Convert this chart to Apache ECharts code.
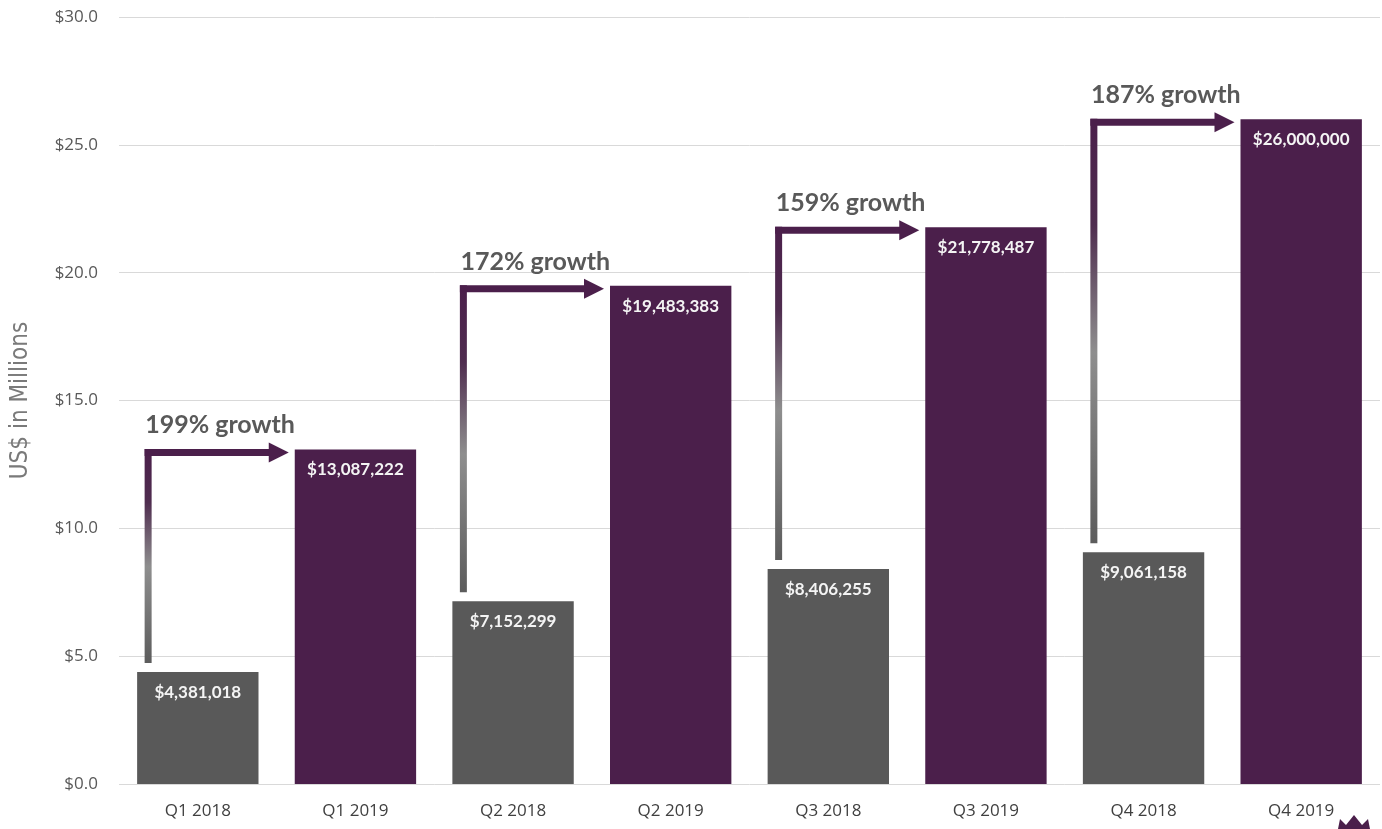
<!DOCTYPE html>
<html>
<head>
<meta charset="utf-8">
<title>Quarterly revenue growth</title>
<script src="https://cdn.jsdelivr.net/npm/echarts@6/dist/echarts.min.js"></script>
<style>
  html, body { margin: 0; padding: 0; background: #ffffff; }
  #chart { width: 1382px; height: 829px; }
</style>
</head>
<body>
<div id="chart"></div>
<script>
// Quarterly revenue, 2018 vs 2019 (US$)
const categories = ['Q1 2018', 'Q1 2019', 'Q2 2018', 'Q2 2019', 'Q3 2018', 'Q3 2019', 'Q4 2018', 'Q4 2019'];
const revenue = [4381018, 13087222, 7152299, 19483383, 8406255, 21778487, 9061158, 26000000];
const yearOfBar = ['2018', '2019', '2018', '2019', '2018', '2019', '2018', '2019'];
const growthLabels = ['199% growth', '172% growth', '159% growth', '187% growth'];
// each growth arrow runs from a 2018 bar to the matching 2019 bar
const growthPairs = [[0, 1], [2, 3], [4, 5], [6, 7]];
const yTicks = [0, 5, 10, 15, 20, 25, 30];

const GRAY = '#595959';
const PURPLE = '#4b1f4b';
const FONT = 'Lato, "Open Sans", sans-serif';

const chart = echarts.init(document.getElementById('chart'), null, { renderer: 'canvas' });

const fmtDollars = v => '$' + v.toLocaleString('en-US');

const option = {
  backgroundColor: '#ffffff',
  animation: false,
  grid: { left: 119, right: 2, top: 17, bottom: 45 },
  xAxis: {
    type: 'category',
    data: categories,
    axisLine: { show: false },
    axisTick: { show: false },
    axisLabel: { color: '#404040', fontSize: 17, fontFamily: '"Open Sans", sans-serif', margin: 19 }
  },
  yAxis: {
    type: 'value',
    min: yTicks[0],
    max: yTicks[yTicks.length - 1],
    interval: 5,
    name: 'US$ in Millions',
    nameLocation: 'middle',
    nameGap: 86,
    nameRotate: 90,
    nameTextStyle: { color: '#7a7a7a', fontSize: 24, fontFamily: '"DejaVu Sans Condensed", "Liberation Sans Narrow", sans-serif' },
    axisLine: { show: false },
    axisTick: { show: false },
    splitLine: { lineStyle: { color: '#d9d9d9', width: 1 } },
    axisLabel: {
      color: GRAY, fontSize: 17, fontFamily: '"Open Sans", sans-serif', margin: 21,
      formatter: v => '$' + v.toFixed(1)
    }
  },
  series: [{
    type: 'bar',
    barWidth: '77%',
    data: revenue.map((v, i) => ({
      value: v / 1e6,
      itemStyle: { color: yearOfBar[i] === '2018' ? GRAY : PURPLE }
    })),
    label: {
      show: true,
      position: 'insideTop',
      distance: 12,
      color: '#f4f4f4',
      fontSize: 17,
      fontWeight: 'bold',
      fontFamily: FONT,
      formatter: p => fmtDollars(revenue[p.dataIndex])
    }
  }]
};

chart.setOption(option);

// Elbow arrows with growth captions, placed through the chart's own scales
function drawArrows() {
  const elements = [];
  const c0 = chart.convertToPixel({ gridIndex: 0 }, [0, 0]);
  const c1 = chart.convertToPixel({ gridIndex: 0 }, [1, 0]);
  const band = c1[0] - c0[0];
  const barW = band * 0.77;
  const lw = 7, headLen = 20, headHalf = 10;

  growthPairs.forEach(([from, to], k) => {
    const pFrom = chart.convertToPixel({ gridIndex: 0 }, [from, revenue[from] / 1e6]);
    const pTo = chart.convertToPixel({ gridIndex: 0 }, [to, revenue[to] / 1e6]);
    const x = pFrom[0] - barW / 2 + 11;
    const yBottom = pFrom[1] - 9;
    const yH = pTo[1] + 3;
    const tipX = pTo[0] - barW / 2 - 6;

    // vertical stem: purple at the top fading into gray
    elements.push({
      type: 'rect',
      shape: { x: x - lw / 2, y: yH - lw / 2, width: lw, height: yBottom - (yH - lw / 2) },
      style: {
        fill: new echarts.graphic.LinearGradient(0, 0, 0, 1, [
          { offset: 0, color: PURPLE },
          { offset: 0.25, color: '#4f2d4f' },
          { offset: 0.55, color: '#8e8e8e' },
          { offset: 1, color: '#5c5c5c' }
        ])
      },
      silent: true
    });
    // horizontal run
    elements.push({
      type: 'rect',
      shape: { x: x - lw / 2, y: yH - lw / 2, width: (tipX - headLen) - (x - lw / 2) + 1, height: lw },
      style: { fill: PURPLE },
      silent: true
    });
    // arrow head
    elements.push({
      type: 'polygon',
      shape: { points: [[tipX - headLen, yH - headHalf], [tipX, yH], [tipX - headLen, yH + headHalf]] },
      style: { fill: PURPLE },
      silent: true
    });
    // caption
    elements.push({
      type: 'text',
      x: x - 3,
      y: yH - 27,
      style: {
        text: growthLabels[k],
        fill: GRAY,
        font: 'bold 25px ' + FONT,
        textAlign: 'left',
        textVerticalAlign: 'middle'
      },
      silent: true
    });
  });

  // small crown mark in the lower right corner
  elements.push({
    type: 'polygon',
    shape: { points: [[1338, 829], [1340, 819], [1346, 825], [1354, 815], [1362, 825], [1368, 819], [1370, 829]] },
    style: { fill: PURPLE },
    silent: true
  });

  chart.setOption({ graphic: { elements: elements } });
}

drawArrows();
</script>
</body>
</html>
